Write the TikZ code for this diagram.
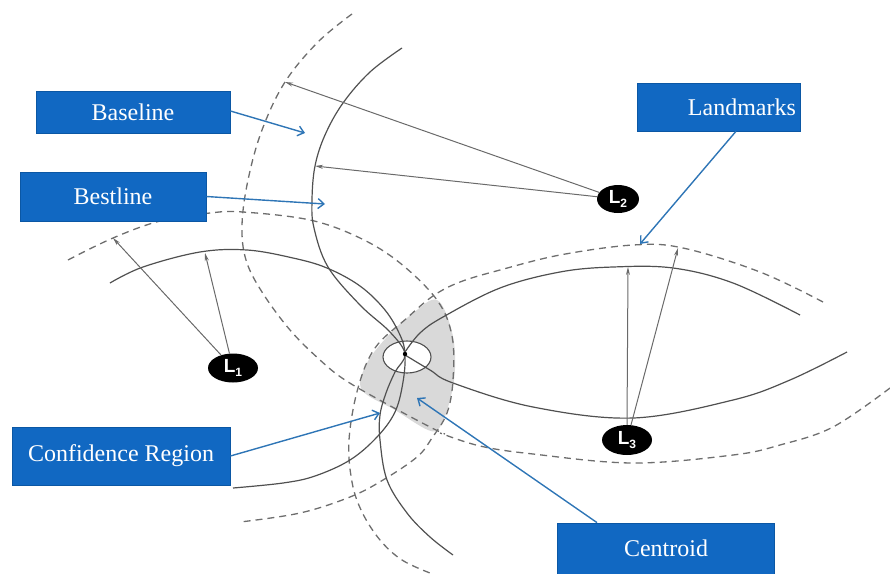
\documentclass[tikz,border=0pt]{standalone}
\usepackage{fontspec}
\setmainfont{Liberation Serif}
\newfontfamily\markfont{Liberation Sans}
\usetikzlibrary{arrows.meta,shapes.geometric}

\definecolor{boxblue}{HTML}{1168C2}
\definecolor{boxedge}{HTML}{0B57A4}
\definecolor{pointerblue}{HTML}{2E75B6}
\definecolor{curvegray}{HTML}{505050}
\definecolor{dashgray}{HTML}{6E6E6E}
\definecolor{regiongray}{HTML}{D9D9D9}

\tikzset{
  tag/.style={draw=boxedge, line width=0.8pt, fill=boxblue, text=white,
    font=\fontsize{24}{24}\selectfont, inner sep=0pt},
  pointer/.style={draw=pointerblue, line width=1.4pt,
    -{Straight Barb[length=6pt,width=10pt]}},
  bestarc/.style={draw=curvegray, line width=1.2pt},
  basearc/.style={draw=dashgray, line width=1.3pt, dash pattern=on 7pt off 5pt},
  landmark/.style={ellipse, fill=black, text=white, inner sep=0pt},
  ray/.style={draw=curvegray!85, line width=1pt, -{Stealth[length=8pt,width=4pt]}}
}

\newcommand{\lmlabel}[1]{{\markfont\bfseries\fontsize{19}{19}\selectfont L\raisebox{-4pt}{\fontsize{12}{12}\selectfont #1}}}

\begin{document}
\begin{tikzpicture}[x=1pt,y=-1pt]
\useasboundingbox (0,0) rectangle (890,573);

% confidence region around the centroid
\fill[regiongray] plot[smooth cycle, tension=0.6] coordinates
  {(437,300) (452,332) (455,368) (450,400) (440,427) (428,430) (395,410)
   (362,390) (366,365) (386,338) (412,314)};
\fill[white] (407,357) ellipse [x radius=24, y radius=16];

% baseline (dashed) range curves
\draw[basearc] plot[smooth, tension=0.6] coordinates
  {(352,14) (318,42) (285,82) (262,130) (248,180) (242,225) (246,260)
   (262,292) (290,330) (320,360) (345,380) (385,403) (430,427) (445,434)};
\draw[basearc] plot[smooth, tension=0.6] coordinates
  {(823,302) (760,272) (683,248) (633,245) (560,255) (500,270) (460,282)
   (433,296) (407,318) (375,348) (358,388) (349,440) (352,482) (362,512)
   (380,540) (402,560) (430,573)};
\draw[basearc] plot[smooth, tension=0.6] coordinates
  {(890,388) (833,427) (780,445) (733,455) (633,463) (533,454) (480,446)
   (440,433)};
\draw[basearc] plot[smooth, tension=0.6] coordinates
  {(68,260) (113,238) (160,221) (210,213) (243,212) (310,220) (360,238)
   (400,263) (437,300) (452,336) (453,380) (447,413) (432,438) (417,457)
   (383,480) (350,497) (300,513) (240,522)};

% bestline (solid) range curves
\draw[bestarc] plot[smooth, tension=0.6] coordinates
  {(110,283) (143,267) (200,252) (247,250) (293,258) (327,268) (360,286)
   (385,310) (400,335) (405,354) (403,382) (395,412) (377,437) (350,460)
   (315,476) (283,483) (233,488)};
\draw[bestarc] plot[smooth, tension=0.6] coordinates
  {(402,48) (370,72) (343,103) (325,135) (315,166) (312,200) (314,228)
   (328,267) (360,305) (390,332) (405,354) (395,372) (386,393) (380,415)
   (380,440) (387,480) (407,513) (430,537) (453,555)};
\draw[bestarc] plot[smooth, tension=0.6] coordinates
  {(405,352) (420,333) (443,317) (500,288) (560,272) (613,267) (673,268)
   (733,283) (800,315)};
\draw[bestarc] plot[smooth, tension=0.6] coordinates
  {(405,355) (430,370) (453,383) (533,407) (633,418) (733,400) (790,380)
   (847,352)};

% centroid and its small ellipse
\draw[curvegray, line width=1.1pt] (407,357) ellipse [x radius=24, y radius=16];
\fill[black] (405,354) circle [radius=2.2];

% landmarks
\node[landmark, minimum width=50pt, minimum height=29pt] (L1) at (233,368) {\lmlabel{1}};
\node[landmark, minimum width=42pt, minimum height=28pt] (L2) at (618,199) {\lmlabel{2}};
\node[landmark, minimum width=50pt, minimum height=30pt] (L3) at (627,440) {\lmlabel{3}};

% range rays from the landmarks
\coordinate (r1a) at (113,238);
\coordinate (r1b) at (205,253);
\coordinate (r2a) at (285,82);
\coordinate (r2b) at (315,166);
\coordinate (r3a) at (628,267);
\coordinate (r3b) at (678,248);
\draw[ray] (L1) -- (r1a);
\draw[ray] (L1) -- (r1b);
\draw[ray] (L2) -- (r2a);
\draw[ray] (L2) -- (r2b);
\draw[ray] (L3.north) -- (r3a);
\draw[ray] (L3) -- (r3b);

% labels
\node[tag, minimum width=194pt, minimum height=42pt] (baseline) at (133,112) {Baseline};
\node[tag, minimum width=186pt, minimum height=49pt] (bestline) at (113,196.5) {Bestline};
\node[tag, minimum width=163pt, minimum height=48pt, anchor=west] (landmarks) at (637,107) {\hspace*{46pt}Landmarks};
\node[tag, minimum width=218pt, minimum height=58pt] (confregion) at (121,456) {Confidence Region};
\node[tag, minimum width=217pt, minimum height=51pt] (centroidbox) at (666,548.5) {Centroid};

% label pointers
\coordinate (p1) at (305,133);
\coordinate (p2) at (325,204);
\coordinate (p3) at (640,244);
\coordinate (p4) at (380,413);
\coordinate (p5) at (417,398);
\draw[pointer] (baseline.east) ++(0,-1) -- (p1);
\draw[pointer] (bestline.east) -- (p2);
\draw[pointer] ([xshift=17pt]landmarks.south) -- (p3);
\draw[pointer] (confregion.east) -- (p4);
\draw[pointer] ([xshift=-69pt]centroidbox.north) -- (p5);
\end{tikzpicture}
\end{document}
